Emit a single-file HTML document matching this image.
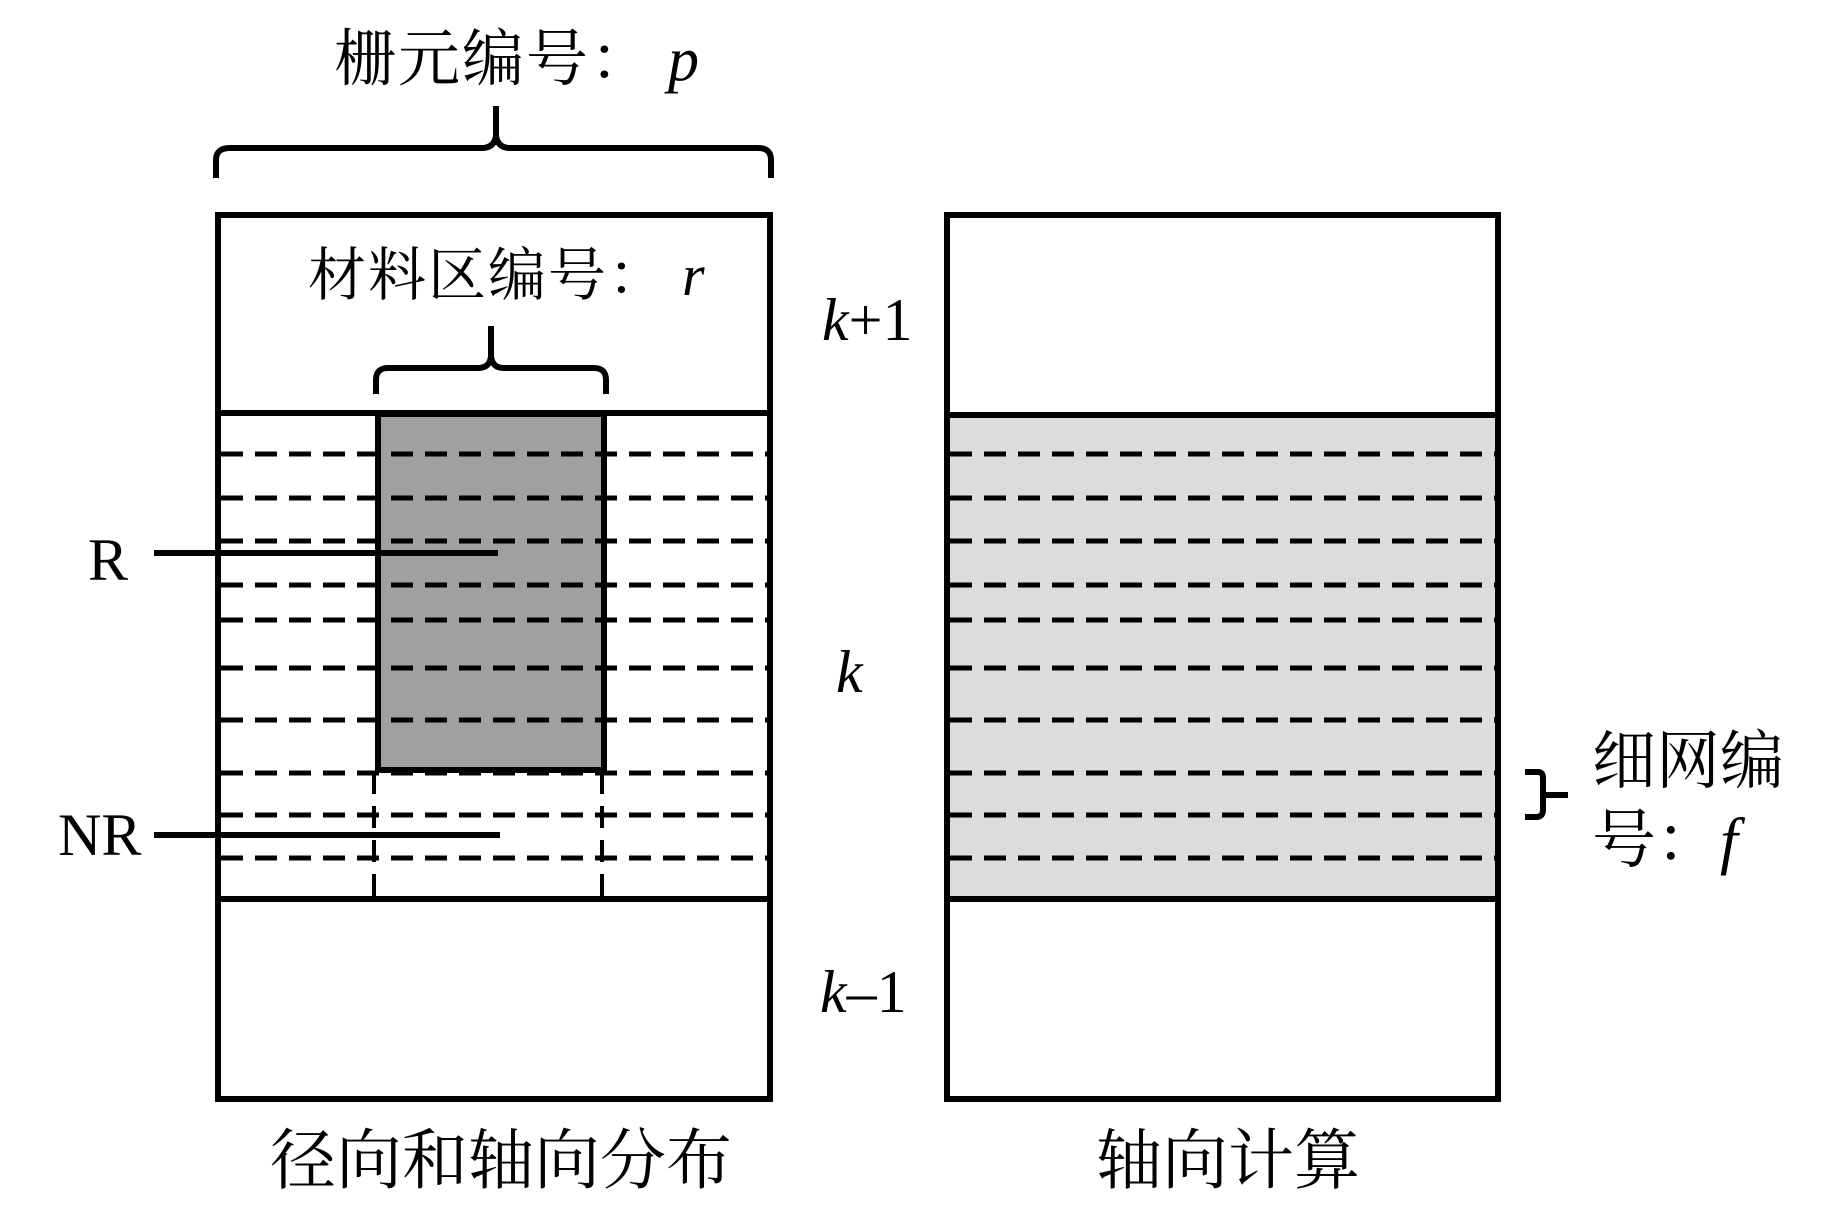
<!DOCTYPE html>
<html><head><meta charset="utf-8"><style>
html,body{margin:0;padding:0;background:#fff;}
svg{display:block;}
.cj{font-family:"Liberation Serif","Noto Serif CJK SC",serif;}
.it{font-family:"Liberation Serif",serif;font-style:italic;}
.rm{font-family:"Liberation Serif",serif;}
</style></head><body>
<svg width="1843" height="1205" viewBox="0 0 1843 1205" xmlns="http://www.w3.org/2000/svg">
<rect x="0" y="0" width="1843" height="1205" fill="#fff"/>
<rect x="380" y="416" width="222" height="354" fill="#a0a0a0"/>
<rect x="947" y="416" width="551" height="483" fill="#dcdcdc"/>
<g stroke="#000" stroke-width="5" stroke-dasharray="22 12" fill="none">
  <line x1="221" y1="454" x2="768" y2="454"/>
  <line x1="221" y1="498" x2="768" y2="498"/>
  <line x1="221" y1="541" x2="768" y2="541"/>
  <line x1="221" y1="585" x2="768" y2="585"/>
  <line x1="221" y1="620" x2="768" y2="620"/>
  <line x1="221" y1="668" x2="768" y2="668"/>
  <line x1="221" y1="720" x2="768" y2="720"/>
  <line x1="221" y1="773" x2="768" y2="773"/>
  <line x1="221" y1="815" x2="768" y2="815"/>
  <line x1="221" y1="858" x2="768" y2="858"/>
  <line x1="950" y1="454" x2="1496" y2="454"/>
  <line x1="950" y1="498" x2="1496" y2="498"/>
  <line x1="950" y1="541" x2="1496" y2="541"/>
  <line x1="950" y1="585" x2="1496" y2="585"/>
  <line x1="950" y1="620" x2="1496" y2="620"/>
  <line x1="950" y1="668" x2="1496" y2="668"/>
  <line x1="950" y1="720" x2="1496" y2="720"/>
  <line x1="950" y1="773" x2="1496" y2="773"/>
  <line x1="950" y1="815" x2="1496" y2="815"/>
  <line x1="950" y1="858" x2="1496" y2="858"/>
</g>
<g stroke="#000" stroke-width="4" stroke-dasharray="22 12" fill="none">
  <line x1="374" y1="772" x2="374" y2="899"/>
  <line x1="602" y1="772" x2="602" y2="899"/>
</g>
<g stroke="#000" stroke-width="6" fill="none">
  <rect x="378" y="414" width="226" height="356"/>
  <rect x="218" y="215" width="552" height="884"/>
  <line x1="218" y1="413" x2="770" y2="413"/>
  <line x1="218" y1="899" x2="770" y2="899"/>
  <rect x="947" y="215" width="551" height="884"/>
  <line x1="947" y1="415" x2="1498" y2="415"/>
  <line x1="947" y1="899" x2="1498" y2="899"/>
  <line x1="154" y1="553" x2="498" y2="553"/>
  <line x1="154" y1="835" x2="500" y2="835"/>
  <path d="M216 178 V160 Q216 148 230 148 H482 Q494 148 496 136 V106 M496 136 Q498 148 510 148 H758 Q771 148 771 160 V178"/>
  <path d="M376 394 V380 Q376 368 388 368 H478 Q490 368 491 356 V326 M491 356 Q492 368 504 368 H594 Q606 368 606 380 V394"/>
  <path d="M1525 772 H1538 Q1543 772 1543 778 V810 Q1543 817 1536 817 H1525 M1543 795 H1568"/>
</g>
<g fill="#000">
  <text class="cj" x="334" y="80" font-size="62" letter-spacing="2">栅元编号：<tspan class="it" dx="14">p</tspan></text>
  <text class="cj" x="308" y="295" font-size="58" letter-spacing="2">材料区编号：<tspan class="it" dx="14">r</tspan></text>
  <text class="rm" x="88" y="580" font-size="60">R</text>
  <text class="rm" x="58" y="855" font-size="60">NR</text>
  <text class="rm" x="822" y="340" font-size="60"><tspan class="it">k</tspan>+1</text>
  <text class="it" x="836" y="692" font-size="60">k</text>
  <text class="rm" x="820" y="1012" font-size="60"><tspan class="it">k</tspan>–1</text>
  <text class="cj" x="1592" y="783" font-size="64">细网编</text>
  <text class="cj" x="1592" y="862" font-size="64">号：<tspan class="it">f</tspan></text>
  <text class="cj" x="270" y="1183" font-size="66">径向和轴向分布</text>
  <text class="cj" x="1096" y="1183" font-size="66">轴向计算</text>
</g>
</svg>
</body></html>
